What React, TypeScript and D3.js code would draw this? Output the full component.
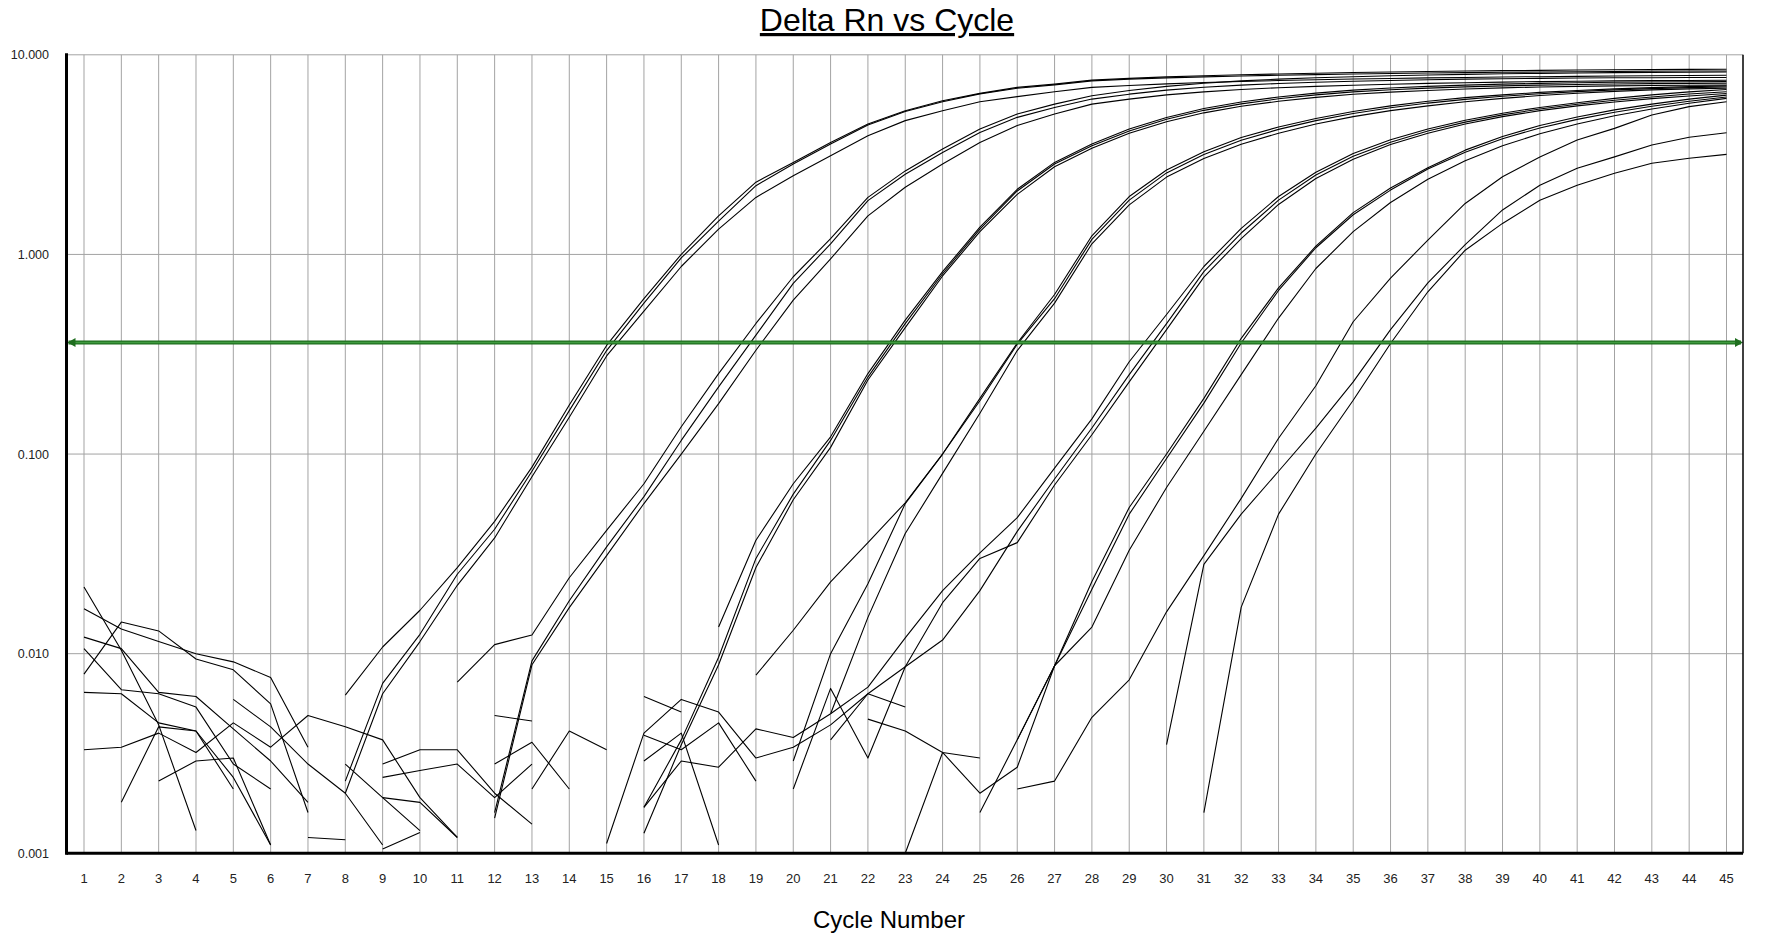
import React from "react";
import * as d3 from "d3";

type V = number | null;
const N = null;

// cycle numbers on the x axis
const cycles = [
  1, 2, 3, 4, 5, 6, 7, 8, 9, 10, 11, 12, 13, 14, 15, 16, 17, 18, 19, 20, 21, 22, 23,
  24, 25, 26, 27, 28, 29, 30, 31, 32, 33, 34, 35, 36, 37, 38, 39, 40, 41, 42, 43, 44, 45,
];
const yTicks = [0.001, 0.01, 0.1, 1, 10];
const threshold = 0.362;

// Delta Rn per well, cycles 1..45 (null = not drawn on log axis)
const wellA1: V[] = [N, N, N, N, N, N, N, 0.0062, 0.0108, 0.0165, 0.027, 0.046, 0.086, 0.176, 0.35, 0.6, 1.0, 1.56, 2.3, 2.89, 3.64, 4.5, 5.25, 5.89, 6.41, 6.87, 7.13, 7.47, 7.62, 7.75, 7.85, 7.94, 8.02, 8.09, 8.15, 8.2, 8.25, 8.29, 8.33, 8.36, 8.39, 8.41, 8.43, 8.45, 8.46];
const wellA2: V[] = [N, N, N, N, N, N, N, 0.0023, 0.0071, 0.0125, 0.025, 0.042, 0.082, 0.165, 0.33, 0.57, 0.96, 1.47, 2.21, 2.84, 3.57, 4.45, 5.2, 5.82, 6.37, 6.8, 7.07, 7.4, 7.55, 7.66, 7.75, 7.83, 7.9, 7.96, 8.01, 8.06, 8.1, 8.14, 8.17, 8.2, 8.23, 8.25, 8.27, 8.29, 8.3];
const wellA3: V[] = [N, N, N, N, N, N, N, 0.002, 0.0063, 0.0115, 0.022, 0.038, 0.077, 0.153, 0.31, 0.52, 0.87, 1.34, 1.93, 2.48, 3.12, 3.93, 4.68, 5.25, 5.82, 6.17, 6.53, 6.87, 7.02, 7.15, 7.26, 7.35, 7.43, 7.5, 7.56, 7.61, 7.66, 7.7, 7.74, 7.77, 7.8, 7.83, 7.85, 7.88, 7.9];
const wellB1: V[] = [N, N, N, N, N, N, N, N, N, N, 0.0072, 0.0111, 0.0124, 0.024, 0.0415, 0.071, 0.137, 0.253, 0.451, 0.773, 1.2, 1.93, 2.62, 3.37, 4.25, 5.05, 5.66, 6.24, 6.62, 6.95, 7.2, 7.4, 7.55, 7.67, 7.77, 7.85, 7.92, 7.98, 8.03, 8.07, 8.11, 8.14, 8.16, 8.18, 8.2];
const wellB2: V[] = [N, N, N, N, N, N, N, N, N, N, N, 0.0016, 0.0092, 0.0184, 0.0343, 0.0612, 0.117, 0.217, 0.394, 0.716, 1.13, 1.86, 2.52, 3.24, 4.08, 4.86, 5.45, 6.0, 6.35, 6.65, 6.88, 7.05, 7.18, 7.28, 7.37, 7.44, 7.5, 7.55, 7.59, 7.62, 7.65, 7.67, 7.68, 7.69, 7.7];
const wellB3: V[] = [N, N, N, N, N, N, N, N, N, N, N, 0.0015, 0.0088, 0.017, 0.031, 0.0565, 0.1, 0.179, 0.331, 0.59, 0.95, 1.56, 2.17, 2.84, 3.64, 4.42, 5.05, 5.66, 6.0, 6.3, 6.52, 6.7, 6.84, 6.95, 7.04, 7.12, 7.19, 7.25, 7.3, 7.34, 7.37, 7.4, 7.42, 7.44, 7.45];
const wellC1: V[] = [N, N, N, N, N, N, N, N, 0.0028, 0.0033, 0.0033, 0.002, 0.0014, N, N, N, N, 0.0136, 0.037, 0.071, 0.122, 0.253, 0.469, 0.82, 1.37, 2.12, 2.89, 3.57, 4.25, 4.85, 5.38, 5.8, 6.15, 6.43, 6.65, 6.82, 6.95, 7.05, 7.13, 7.19, 7.24, 7.28, 7.31, 7.33, 7.34];
const wellC2: V[] = [N, N, N, N, N, N, N, N, 0.0024, 0.0026, 0.0028, 0.0019, 0.0028, N, N, 0.0017, 0.0037, 0.0096, 0.03, 0.063, 0.117, 0.243, 0.45, 0.8, 1.34, 2.08, 2.84, 3.5, 4.15, 4.75, 5.27, 5.68, 6.02, 6.3, 6.52, 6.68, 6.81, 6.91, 6.99, 7.05, 7.1, 7.14, 7.17, 7.19, 7.2];
const wellC3: V[] = [N, N, N, N, N, N, N, N, 0.00105, 0.00127, N, N, N, N, N, 0.00126, 0.0035, 0.0088, 0.027, 0.059, 0.108, 0.235, 0.43, 0.78, 1.3, 2.0, 2.75, 3.4, 4.05, 4.62, 5.12, 5.52, 5.85, 6.12, 6.34, 6.5, 6.63, 6.74, 6.83, 6.9, 6.95, 6.99, 7.02, 7.04, 7.05];
const wellD1: V[] = [N, N, N, N, 0.0059, 0.0043, 0.0028, 0.002, 0.0011, N, N, N, N, N, N, N, N, N, 0.0078, 0.0131, 0.0229, 0.036, 0.057, 0.1, 0.19, 0.36, 0.63, 1.24, 1.95, 2.65, 3.27, 3.85, 4.35, 4.8, 5.2, 5.55, 5.85, 6.1, 6.3, 6.48, 6.63, 6.75, 6.85, 6.93, 6.98];
const wellD2: V[] = [N, N, N, N, N, N, 0.0012, 0.00117, N, N, N, N, N, N, N, N, N, N, N, 0.0029, 0.01, 0.0224, 0.0565, 0.1, 0.185, 0.355, 0.6, 1.19, 1.87, 2.56, 3.17, 3.73, 4.23, 4.68, 5.08, 5.43, 5.73, 5.98, 6.2, 6.38, 6.54, 6.67, 6.77, 6.85, 6.9];
const wellD3: V[] = [N, N, N, N, N, N, N, 0.0028, 0.0019, 0.0013, N, N, N, N, N, N, N, N, N, N, 0.005, 0.0152, 0.04, 0.08, 0.16, 0.33, 0.57, 1.13, 1.77, 2.44, 3.02, 3.56, 4.05, 4.5, 4.9, 5.25, 5.55, 5.82, 6.05, 6.25, 6.42, 6.56, 6.67, 6.75, 6.8];
const wellE1: V[] = [0.0033, 0.0034, 0.004, 0.0032, 0.0045, 0.0034, 0.0049, 0.0043, 0.0037, 0.0019, 0.0012, N, N, N, N, N, N, N, N, N, 0.005, 0.0068, 0.012, 0.0207, 0.032, 0.048, 0.085, 0.15, 0.29, 0.5, 0.87, 1.35, 1.95, 2.58, 3.2, 3.75, 4.25, 4.7, 5.1, 5.45, 5.75, 6.05, 6.3, 6.52, 6.7];
const wellE2: V[] = [N, 0.0018, 0.0043, 0.0041, 0.0021, N, N, N, N, N, N, N, N, N, N, N, N, N, N, N, 0.0037, 0.0063, 0.0086, 0.0117, 0.0207, 0.041, 0.075, 0.135, 0.25, 0.45, 0.82, 1.28, 1.87, 2.5, 3.1, 3.65, 4.15, 4.6, 5.0, 5.35, 5.65, 5.92, 6.15, 6.36, 6.53];
const wellE3: V[] = [N, N, 0.0023, 0.0029, 0.003, 0.0011, N, N, N, N, N, N, N, N, N, N, N, N, N, 0.0021, 0.0067, 0.003, 0.0086, 0.018, 0.03, 0.036, 0.07, 0.125, 0.23, 0.42, 0.77, 1.2, 1.78, 2.4, 3.0, 3.55, 4.05, 4.5, 4.9, 5.25, 5.55, 5.8, 6.03, 6.22, 6.4];
const wellF1: V[] = [0.0121, 0.0106, 0.0064, 0.0061, 0.0042, 0.0029, 0.0018, N, N, N, N, 0.0028, 0.0036, 0.0021, N, 0.0017, 0.0029, 0.0027, 0.0042, 0.0038, 0.005, N, N, N, N, 0.0037, 0.0087, 0.023, 0.054, 0.1, 0.19, 0.38, 0.68, 1.1, 1.62, 2.15, 2.72, 3.33, 3.9, 4.42, 4.88, 5.3, 5.66, 6.0, 6.28];
const wellF2: V[] = [0.0106, 0.0066, 0.0063, 0.0054, 0.0028, 0.0021, N, N, N, N, N, N, N, N, N, 0.0061, 0.0051, N, N, N, N, N, N, N, 0.0016, 0.0037, 0.0087, 0.021, 0.05, 0.095, 0.18, 0.36, 0.66, 1.08, 1.58, 2.1, 2.68, 3.25, 3.8, 4.3, 4.75, 5.15, 5.52, 5.85, 6.15];
const wellF3: V[] = [0.0064, 0.0063, 0.0045, 0.0041, 0.0024, 0.0011, N, N, N, N, N, N, N, N, N, 0.0039, 0.0033, 0.0045, 0.0023, N, N, N, 0.001, 0.0032, 0.002, 0.0027, 0.0087, 0.0136, 0.033, 0.068, 0.13, 0.25, 0.48, 0.85, 1.3, 1.82, 2.38, 2.95, 3.5, 4.02, 4.5, 4.95, 5.35, 5.72, 6.05];
const wellG1: V[] = [0.0216, 0.0104, 0.0044, 0.0013, N, N, N, N, 0.0019, 0.0018, 0.0012, N, N, N, 0.00112, 0.004, 0.0059, 0.0051, 0.003, 0.0034, 0.0044, 0.0063, 0.0054, N, N, 0.0021, 0.0023, 0.0048, 0.0074, 0.0162, 0.031, 0.06, 0.12, 0.22, 0.46, 0.76, 1.18, 1.8, 2.45, 3.08, 3.74, 4.28, 4.99, 5.5, 5.82];
const wellG2: V[] = [0.0168, 0.0133, 0.0115, 0.01, 0.0091, 0.0076, 0.0034, N, N, N, N, 0.0049, 0.0046, N, N, 0.0029, 0.004, 0.0011, N, N, N, 0.0047, 0.0041, 0.0032, 0.003, N, N, N, N, 0.0035, 0.028, 0.05, 0.082, 0.135, 0.23, 0.42, 0.72, 1.12, 1.67, 2.22, 2.7, 3.08, 3.53, 3.86, 4.07];
const wellG3: V[] = [0.0079, 0.0144, 0.013, 0.0094, 0.0083, 0.0056, 0.0016, N, N, N, N, N, 0.0021, 0.0041, 0.0033, N, N, N, N, N, N, N, N, N, N, N, N, N, N, N, 0.0016, 0.0171, 0.05, 0.1, 0.186, 0.358, 0.65, 1.05, 1.43, 1.87, 2.22, 2.55, 2.86, 3.03, 3.17];

const wells = [
  wellA1, wellA2, wellA3, wellB1, wellB2, wellB3, wellC1, wellC2, wellC3,
  wellD1, wellD2, wellD3, wellE1, wellE2, wellE3, wellF1, wellF2, wellF3,
  wellG1, wellG2, wellG3,
];

const W = 1787;
const H = 944;
const plot = { left: 66.5, right: 1743, top: 54.8, bottom: 853.3 };
const font = "'Liberation Sans', Arial, sans-serif";

export default function App() {
  const x = d3.scaleLinear().domain([1, 45]).range([84, 1726.5]);
  const y = d3.scaleLog().domain([0.001, 10]).range([plot.bottom, plot.top]);

  const line = d3
    .line<V>()
    .defined((d) => d != null)
    .x((_, i) => x(cycles[i]))
    .y((d) => y(d as number));

  const ty = y(threshold);

  return (
    <div style={{ position: "fixed", left: 0, top: 0, width: W, height: H, background: "#fff" }}>
      <svg width={W} height={H} viewBox={`0 0 ${W} ${H}`} style={{ display: "block" }}>
        <rect width={W} height={H} fill="#fff" />

        {/* grid */}
        {cycles.map((c) => (
          <line key={`v${c}`} x1={x(c)} x2={x(c)} y1={plot.top} y2={plot.bottom} stroke="#a3a3a3" strokeWidth={1} />
        ))}
        {yTicks.map((t) => (
          <line key={`h${t}`} x1={plot.left} x2={plot.right} y1={y(t)} y2={y(t)} stroke="#a3a3a3" strokeWidth={1} />
        ))}

        {/* amplification curves */}
        <g fill="none" stroke="#000" strokeWidth={1.1} strokeLinejoin="round">
          {wells.map((w, i) => (
            <path key={i} d={line(w) ?? ""} />
          ))}
        </g>

        {/* threshold */}
        <line x1={plot.left + 2} x2={plot.right - 2} y1={ty} y2={ty} stroke="#1f6e1f" strokeWidth={4} />
        <line x1={plot.left + 2} x2={plot.right - 2} y1={ty} y2={ty} stroke="#3f9b3f" strokeWidth={1.4} />
        <path d={`M${plot.left + 1},${ty} l8,-4.5 l0,9 Z`} fill="#1f6e1f" />
        <path d={`M${plot.right},${ty} l-8,-4.5 l0,9 Z`} fill="#1f6e1f" />

        {/* frame */}
        <line x1={plot.right} x2={plot.right} y1={plot.top} y2={plot.bottom} stroke="#000" strokeWidth={1.5} />
        <line x1={plot.left} x2={plot.left} y1={plot.top - 1.5} y2={plot.bottom + 1.5} stroke="#000" strokeWidth={3} />
        <line x1={plot.left} x2={plot.right} y1={plot.bottom} y2={plot.bottom} stroke="#000" strokeWidth={3} />

        {/* y labels */}
        {yTicks.map((t) => (
          <text key={`yl${t}`} x={49} y={y(t)} dy="0.36em" textAnchor="end" fontFamily={font} fontSize={12.5} fill="#222">
            {t.toFixed(3)}
          </text>
        ))}

        {/* x labels */}
        {cycles.map((c) => (
          <text key={`xl${c}`} x={x(c)} y={883} textAnchor="middle" fontFamily={font} fontSize={13} fill="#222">
            {c}
          </text>
        ))}

        <text x={887} y={31} textAnchor="middle" fontFamily={font} fontSize={32} fill="#000" style={{ textDecoration: "underline" }}>
          Delta Rn vs Cycle
        </text>
        <text x={889} y={928} textAnchor="middle" fontFamily={font} fontSize={24} fill="#000">
          Cycle Number
        </text>
      </svg>
    </div>
  );
}
